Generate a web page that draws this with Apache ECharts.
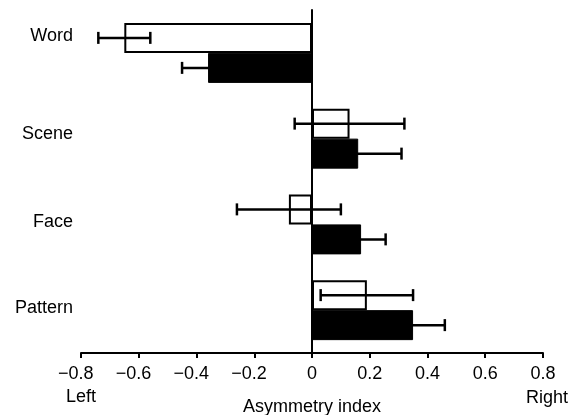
<!DOCTYPE html>
<html>
<head>
<meta charset="utf-8">
<script src="https://cdn.jsdelivr.net/npm/echarts@6/dist/echarts.min.js"></script>
<style>
html,body{margin:0;padding:0;background:#fff;}
#chart{width:571px;height:415px;}
</style>
</head>
<body>
<div id="chart"></div>
<script>
var categories=['Word','Scene','Face','Pattern'];
var openValues=[-0.65,0.13,-0.08,0.19];
var openErrors=[0.09,0.19,0.18,0.16];
var filledValues=[-0.36,0.16,0.17,0.35];
var filledErrors=[0.09,0.15,0.085,0.11];

var font='"Liberation Sans", Arial, sans-serif';
var barW=30;
// how far each category label sits above the middle of its pair of bars
var labelLift=[34,9,4,5];

function errData(vals,errs){
	var out=[];
	for(var i=0;i<vals.length;i++){
		out.push([vals[i],errs[i],i]);
	}
	return out;
}
function errRender(offset){
	return function(params,api){
		var v=api.value(0),e=api.value(1),idx=api.value(2);
		var lo=api.coord([v-e,idx]);
		var hi=api.coord([v+e,idx]);
		var y=lo[1]+offset;
		var st={stroke:'#000',lineWidth:2.5};
		return {
			type:'group',
			children:[
				{type:'line',shape:{x1:lo[0],y1:y,x2:hi[0],y2:y},style:st},
				{type:'line',shape:{x1:lo[0],y1:y-6,x2:lo[0],y2:y+6},style:st},
				{type:'line',shape:{x1:hi[0],y1:y-6,x2:hi[0],y2:y+6},style:st}
			]
		};
	};
}

var chart=echarts.init(document.getElementById('chart'));
var option={
	animation:false,
	grid:{left:81,right:28,top:10,bottom:62,containLabel:false,outerBoundsMode:'none'},
	xAxis:{
		type:'value',
		min:-0.8,max:0.8,interval:0.2,
		name:'Asymmetry index',
		nameLocation:'middle',
		nameGap:45,
		nameTextStyle:{fontFamily:font,fontSize:18,color:'#000'},
		axisLine:{show:true,lineStyle:{color:'#000',width:2}},
		axisTick:{show:true,length:5,lineStyle:{color:'#000',width:2}},
		axisLabel:{
			fontFamily:font,fontSize:18,color:'#000',margin:12,
			formatter:function(v){
				var s=(Math.round(v*10)/10).toString();
				if(s.charAt(0)=='-'){
					//keep the digits centred on the tick, as in the original
					return '\u2212'+s.substring(1)+'{h|\u2212}';
				}
				return s;
			},
			rich:{h:{color:'rgba(0,0,0,0)',fontFamily:font,fontSize:18}}
		},
		splitLine:{show:false}
	},
	yAxis:{
		type:'category',
		data:categories,
		inverse:true,
		axisLine:{show:true,lineStyle:{color:'#000',width:2}},
		axisTick:{show:false},
		axisLabel:{
			fontFamily:font,fontSize:18,color:'#000',margin:8,lineHeight:20,
			formatter:function(v,i){
				return v+'\n{s'+i+'| }';
			},
			rich:{
				s0:{lineHeight:labelLift[0],fontSize:2},
				s1:{lineHeight:labelLift[1],fontSize:2},
				s2:{lineHeight:labelLift[2],fontSize:2},
				s3:{lineHeight:labelLift[3],fontSize:2}
			}
		},
		splitLine:{show:false}
	},
	graphic:[
		{type:'text',x:81,y:397,style:{text:'Left',fontFamily:font,fontSize:18,fill:'#000',align:'center',verticalAlign:'middle'}},
		{type:'text',x:547,y:398,style:{text:'Right',fontFamily:font,fontSize:18,fill:'#000',align:'center',verticalAlign:'middle'}}
	],
	series:[
		{
			name:'open',type:'bar',data:openValues,barWidth:barW,barGap:'0%',
			itemStyle:{color:'#fff',borderColor:'#000',borderWidth:2},
			markLine:{
				silent:true,symbol:'none',label:{show:false},
				lineStyle:{color:'#000',type:'solid',width:1.5},
				data:[{xAxis:0}]
			}
		},
		{
			name:'filled',type:'bar',data:filledValues,barWidth:barW,barGap:'0%',
			itemStyle:{color:'#000',borderColor:'#000',borderWidth:1}
		},
		{
			type:'custom',renderItem:errRender(-barW/2),
			data:errData(openValues,openErrors),
			encode:{x:0,y:2},z:5
		},
		{
			type:'custom',renderItem:errRender(barW/2),
			data:errData(filledValues,filledErrors),
			encode:{x:0,y:2},z:5
		}
	]
};
chart.setOption(option);
</script>
</body>
</html>
